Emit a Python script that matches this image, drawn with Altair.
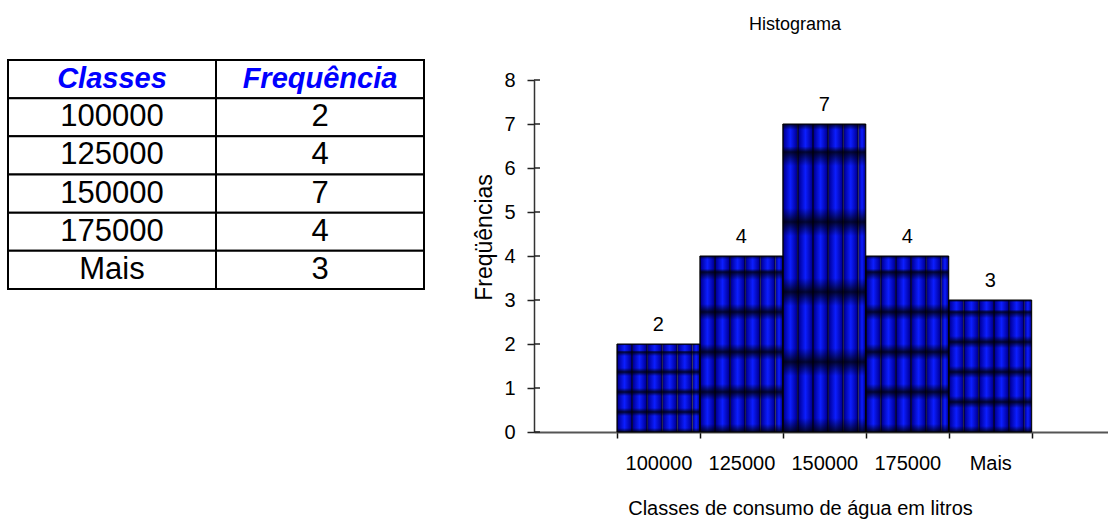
import altair as alt
import pandas as pd

# ---------------- data ----------------
classes = ["100000", "125000", "150000", "175000", "Mais"]
freqs = [2, 4, 7, 4, 3]
table_headers = ["Classes", "Frequência"]
y_ticks = [0, 1, 2, 3, 4, 5, 6, 7, 8]

chart_title = "Histograma"
x_title = "Classes de consumo de água em litros"
y_title = "Freqüências"

FONT = "Liberation Sans"
X_MAX = 6.92          # one empty slot before the first class, a bit after the last
STRIPES_PER_BAR = 5.5  # texture columns per bar
TILES_PER_BAR = 4.4    # texture rows per bar

n = len(classes)
bars = pd.DataFrame({"classe": classes, "freq": freqs})
bars["left"] = [i + 1 for i in range(n)]
bars["right"] = bars["left"] + 1
bars["mid"] = bars["left"] + 0.5

# texture pieces built from the bar table
stripe_rows = []
tile_rows = []
for i, f in enumerate(freqs):
    left = i + 1
    j = 0
    while j / STRIPES_PER_BAR < 1 - 1e-9:
        stripe_rows.append({"x0": left + j / STRIPES_PER_BAR,
                            "x1": min(left + (j + 1) / STRIPES_PER_BAR, left + 1),
                            "y0": 0, "y1": f})
        j += 1
    h = f / TILES_PER_BAR
    k = 0
    while k * h < f - 1e-9:
        tile_rows.append({"x0": left, "x1": left + 1,
                          "y0": k * h, "y1": min((k + 1) * h, f)})
        k += 1
stripes = pd.DataFrame(stripe_rows)
tiles = pd.DataFrame(tile_rows)

ticks_df = pd.DataFrame({"v": y_ticks})

# table
rows = [table_headers] + [[c, str(f)] for c, f in zip(classes, freqs)]
cells = []
for r, row in enumerate(rows):
    for c, txt in enumerate(row):
        cells.append({"r0": r, "r1": r + 1, "rm": r + 0.5,
                      "c0": c, "c1": c + 1, "cm": c + 0.5,
                      "text": txt, "header": r == 0})
cells = pd.DataFrame(cells)

# ---------------- histogram ----------------
xs = alt.Scale(domain=[0, X_MAX], nice=False, zero=False)
ys = alt.Scale(domain=[0, 8], nice=False)

label_list = [""] + classes + [""]
label_expr = "[" + ",".join("'" + s + "'" for s in label_list) + "][datum.value]"

x_axis = alt.Axis(values=list(range(1, n + 2)), labelExpr=label_expr,
                  labelOffset=41.5, tickSize=6, tickColor="#111", tickWidth=1.5,
                  domainColor="#555", domainWidth=2, grid=False,
                  labelFont=FONT, labelFontSize=20, labelColor="black",
                  labelPadding=15, labelFlush=False, labelOverlap=False,
                  title=x_title, titleFont=FONT, titleFontSize=20,
                  titleFontWeight="normal", titleColor="black",
                  titleX=266, titleY=82, titleAlign="center",
                  titleBaseline="alphabetic")
y_axis = alt.Axis(values=y_ticks, tickSize=7, tickColor="#222", tickWidth=1.5,
                  domainColor="#333", domainWidth=1.5, grid=False,
                  labelFont=FONT, labelFontSize=20, labelColor="black",
                  labelPadding=12,
                  title=y_title, titleFont=FONT, titleFontSize=23,
                  titleFontWeight="normal", titleColor="black",
                  titleX=-50, titleY=157, titleAngle=270, titleAlign="center",
                  titleBaseline="middle")

stripe_grad = alt.Gradient(
    gradient="linear", x1=0, y1=0, x2=1, y2=0,
    stops=[alt.GradientStop(color="#000018", offset=0),
           alt.GradientStop(color="#0000a0", offset=0.1),
           alt.GradientStop(color="#0c1eff", offset=0.5),
           alt.GradientStop(color="#0000a0", offset=0.9),
           alt.GradientStop(color="#000018", offset=1)])
tile_grad = alt.Gradient(
    gradient="linear", x1=0, y1=0, x2=0, y2=1,
    stops=[alt.GradientStop(color="rgba(0,0,0,0.8)", offset=0),
           alt.GradientStop(color="rgba(0,0,0,0)", offset=0.2),
           alt.GradientStop(color="rgba(0,0,0,0)", offset=0.8),
           alt.GradientStop(color="rgba(0,0,0,0.8)", offset=1)])

stripe_layer = alt.Chart(stripes).mark_rect(fill=stripe_grad, strokeWidth=0).encode(
    x=alt.X("x0:Q", scale=xs, axis=x_axis), x2="x1:Q",
    y=alt.Y("y0:Q", scale=ys, axis=y_axis), y2="y1:Q")

tile_layer = alt.Chart(tiles).mark_rect(fill=tile_grad, strokeWidth=0).encode(
    x=alt.X("x0:Q", scale=xs), x2="x1:Q",
    y=alt.Y("y0:Q", scale=ys), y2="y1:Q")

outline_layer = alt.Chart(bars).mark_rect(fillOpacity=0, stroke="black",
                                          strokeWidth=1).encode(
    x=alt.X("left:Q", scale=xs), x2="right:Q",
    y=alt.Y("freq:Q", scale=ys), y2=alt.datum(0))

inner_ticks = alt.Chart(ticks_df).mark_rule(color="#222", strokeWidth=1.5).encode(
    y=alt.Y("v:Q", scale=ys), x=alt.value(0), x2=alt.value(6))

value_labels = alt.Chart(bars).mark_text(font=FONT, fontSize=20, color="black",
                                         baseline="alphabetic", dy=-13).encode(
    x=alt.X("mid:Q", scale=xs),
    y=alt.Y("freq:Q", scale=ys),
    text="freq:Q")

title_layer = alt.Chart(alt.Data(values=[{"t": chart_title}])).mark_text(
    font=FONT, fontSize=18, color="black", align="center",
    baseline="alphabetic").encode(
    x=alt.value(261), y=alt.value(-50), text="t:N")

hist = alt.layer(stripe_layer, tile_layer, outline_layer, inner_ticks,
                 value_labels, title_layer)

# ---------------- table ----------------
txs = alt.Scale(domain=[0, 2], range=[-526, -110], nice=False, zero=False)
tys = alt.Scale(domain=[0, 6], range=[-20, 209], nice=False, zero=False)

cell_layer = alt.Chart(cells).mark_rect(fill="white", stroke="black",
                                        strokeWidth=2).encode(
    x=alt.X("c0:Q", scale=txs, axis=None), x2="c1:Q",
    y=alt.Y("r0:Q", scale=tys, axis=None), y2="r1:Q")

head_text = alt.Chart(cells).transform_filter("datum.header").mark_text(
    font=FONT, fontSize=29, fontWeight="bold", fontStyle="italic",
    color="#0000ff", baseline="middle", align="center").encode(
    x=alt.X("cm:Q", scale=txs, axis=None),
    y=alt.Y("rm:Q", scale=tys, axis=None), text="text:N")

body_text = alt.Chart(cells).transform_filter("!datum.header").mark_text(
    font=FONT, fontSize=31, color="black", baseline="middle",
    align="center").encode(
    x=alt.X("cm:Q", scale=txs, axis=None),
    y=alt.Y("rm:Q", scale=tys, axis=None), text="text:N")

table = alt.layer(cell_layer, head_text, body_text)

chart = alt.layer(hist, table).resolve_scale(
    x="independent", y="independent").properties(
    width=574, height=352,
    autosize=alt.AutoSizeParams(type="none"),
    padding={"left": 534, "top": 80, "right": 0, "bottom": 88},
    background="white",
).configure_view(stroke=None)

chart.save("out.html", embed_options={"renderer": "svg", "actions": False})
